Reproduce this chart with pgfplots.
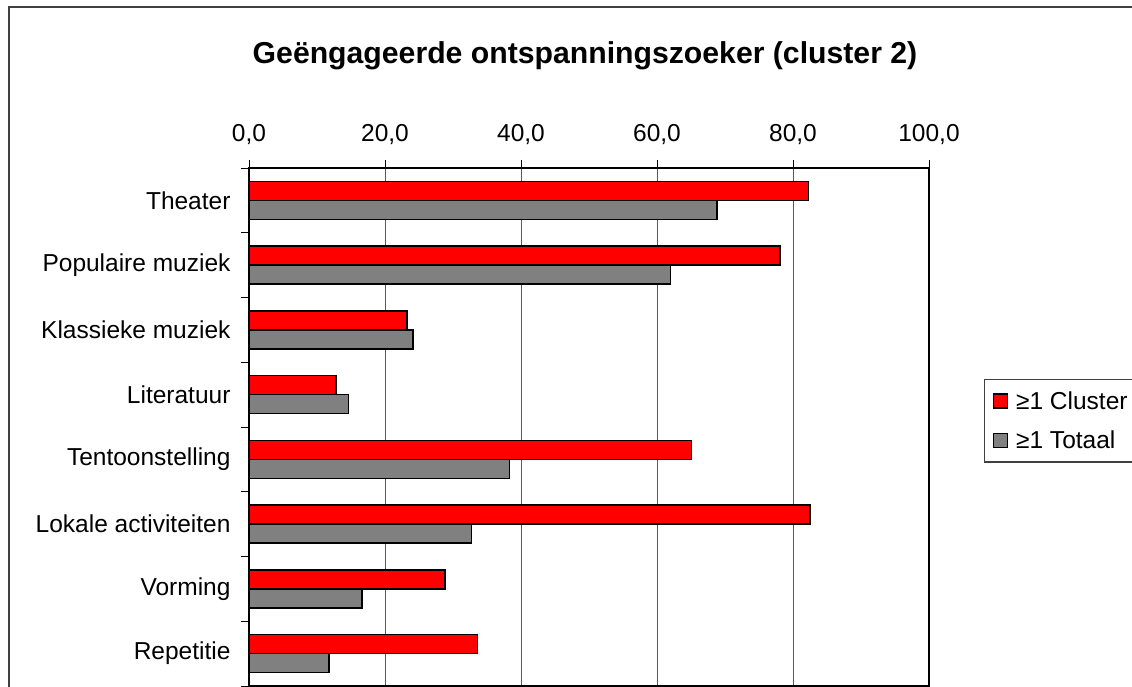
\documentclass[border=0pt]{standalone}
\usepackage{fontspec}
\setmainfont{Liberation Sans}
\usepackage{pgfplots}
\pgfplotsset{compat=1.18}
\begin{document}
\begin{tikzpicture}[x=1pt,y=1pt]
\path[use as bounding box] (0,0) rectangle (1132,687);
% outer frame
\draw[black!75, line width=2pt] (9,-5) -- (9,680) -- (1140,680);
\node[font=\fontsize{30.2}{34}\selectfont\bfseries] at (585,631) {Geëngageerde ontspanningszoeker (cluster 2)};
\begin{axis}[
  at={(249pt,1pt)}, anchor=south west,
  scale only axis, width=680pt, height=518pt,
  xbar, bar width=19pt,
  xmin=0, xmax=100,
  ymin=-0.5, ymax=7.5, y dir=reverse,
  xtick={0,20,...,100},
  xtick pos=right, xticklabel pos=right,
  xticklabel style={yshift=12pt},
  ytick={-0.5,0.5,...,7.5},
  yticklabels={Theater,Populaire muziek,Klassieke muziek,Literatuur,Tentoonstelling,Lokale activiteiten,Vorming,Repetitie,{}},
  ytick pos=left,
  yticklabel style={yshift=-32.4pt, anchor=east, xshift=-7pt},
  tick align=outside, major tick length=8pt,
  tick style={black, line width=1pt},
  xmajorgrids, grid style={black!65, line width=0.9pt},
  axis line style={black, line width=1.6pt},
  ticklabel style={font=\fontsize{24.5}{28}\selectfont},
  /pgf/number format/.cd, fixed, fixed zerofill, precision=1, use comma, assume math mode=true,
  /pgfplots/.cd,
  legend style={at={(rel axis cs:1.0809,0.5927)}, anchor=north west, draw=black!75, line width=1.2pt,
    font=\fontsize{24.5}{28}\selectfont, row sep=16pt, inner xsep=8pt, inner ysep=10pt},
  legend cell align=left,
  legend image code/.code={\draw[#1, line width=1.5pt] (0pt,-7pt) rectangle (14pt,7pt);},
]
\addplot[fill=red, draw=black, line width=1.5pt, bar shift=9.5pt] coordinates {
 (82.3,0) (78.1,1) (23.2,2) (12.8,3) (65.1,4) (82.5,5) (28.8,6) (33.6,7)};
\addplot[fill=black!50, draw=black, line width=1.5pt, bar shift=-9.5pt] coordinates {
 (68.8,0) (62.0,1) (24.1,2) (14.6,3) (38.3,4) (32.7,5) (16.6,6) (11.8,7)};
\legend{\hspace{6pt}≥1 Cluster\hspace{12pt}, \hspace{6pt}≥1 Totaal}
\end{axis}
\end{tikzpicture}
\end{document}
